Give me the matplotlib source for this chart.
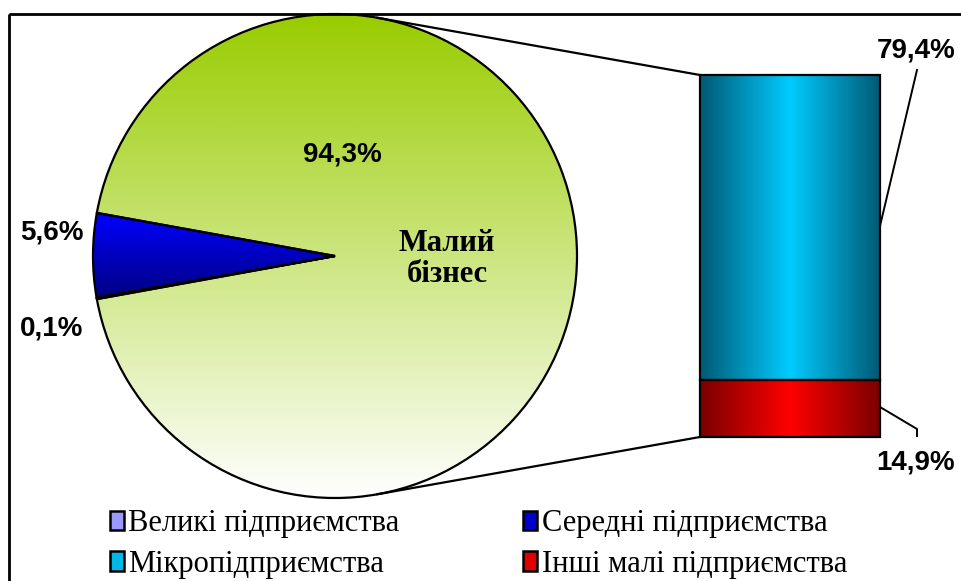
import numpy as np
import matplotlib
matplotlib.use("Agg")
import matplotlib.pyplot as plt
from matplotlib.patches import Patch, Rectangle
from matplotlib.colors import LinearSegmentedColormap

# ---------------- data ----------------
pie_labels = ["Малий бізнес", "Середні підприємства", "Великі підприємства"]
pie_values = [94.3, 5.6, 0.1]
pie_texts = ["94,3%", "5,6%", "0,1%"]

bar_labels = ["Інші малі підприємства", "Мікропідприємства"]
bar_values = [14.9, 79.4]
bar_texts = ["14,9%", "79,4%"]

legend_order = ["Великі підприємства", "Середні підприємства",
                "Мікропідприємства", "Інші малі підприємства"]

# ---------------- styles ----------------
W, H = 962, 581
SANS = "Liberation Sans"
SERIF = "Liberation Serif"

fig = plt.figure(figsize=(W / 100, H / 100), dpi=100)
fig.patch.set_facecolor("white")

def fig_box(x0, y0, w, h):
    """pixel box (top-left origin) -> figure fraction rect"""
    return [x0 / W, 1 - (y0 + h) / H, w / W, h / H]

# ---------------- pie ----------------
cx, cy, r = 335, 256, 242
ax_pie = fig.add_axes(fig_box(cx - r, cy - r, 2 * r, 2 * r))
green_span = pie_values[0] / sum(pie_values) * 360
wedges, _ = ax_pie.pie(pie_values, radius=1, startangle=-green_span / 2,
                       counterclock=True,
                       wedgeprops=dict(edgecolor="black", linewidth=1.6))
ax_pie.set_xlim(-1, 1)
ax_pie.set_ylim(-1, 1)
ax_pie.set_aspect("equal")
ax_pie.axis("off")

def vgrad(ax, patch, top, bottom, extent):
    cmap = LinearSegmentedColormap.from_list("g", [bottom, top])
    grad = np.linspace(0, 1, 256).reshape(-1, 1)
    im = ax.imshow(grad, cmap=cmap, origin="lower", extent=extent,
                   aspect="auto", zorder=patch.get_zorder() - 0.5,
                   interpolation="bicubic")
    im.set_clip_path(patch)
    patch.set_facecolor("none")

def hgrad(ax, patch, edge, center, extent):
    cmap = LinearSegmentedColormap.from_list("h", [edge, center, edge])
    grad = np.linspace(0, 1, 256).reshape(1, -1)
    im = ax.imshow(grad, cmap=cmap, origin="lower", extent=extent,
                   aspect="auto", zorder=patch.get_zorder() - 0.5,
                   interpolation="bicubic")
    im.set_clip_path(patch)
    patch.set_facecolor("none")

for w in wedges:
    w.set_zorder(3)
    w.set_clip_on(False)

vgrad(ax_pie, wedges[0], "#99CC00", "#FFFFFF", (-1, 1, -1, 1))
t1, t2 = np.deg2rad(wedges[1].theta1), np.deg2rad(wedges[1].theta2)
yb = (min(np.sin(t1), np.sin(t2)), max(np.sin(t1), np.sin(t2)))
vgrad(ax_pie, wedges[1], "#0000FF", "#000080", (-1, 0, yb[0], yb[1]))
wedges[2].set_facecolor("#9999FF")

# ---------------- bar ----------------
bx, by, bw, bh = 700, 75, 180, 362
ax_bar = fig.add_axes(fig_box(bx, by, bw, bh))
bottom = 0
bar_patches = []
for v in bar_values:
    p = ax_bar.bar([0], [v], bottom=bottom, width=1.0, edgecolor="black",
                   linewidth=1.6, zorder=3)[0]
    bar_patches.append((p, bottom, bottom + v))
    bottom += v
ax_bar.set_xlim(-0.5, 0.5)
ax_bar.set_ylim(0, sum(bar_values))
ax_bar.axis("off")
hgrad(ax_bar, bar_patches[0][0], "#7A0000", "#FF0000",
      (-0.5, 0.5, bar_patches[0][1], bar_patches[0][2]))
hgrad(ax_bar, bar_patches[1][0], "#005A75", "#00CCFF",
      (-0.5, 0.5, bar_patches[1][1], bar_patches[1][2]))
for p, _, _ in bar_patches:
    p.set_clip_on(False)

# ---------------- overlay (pixel coords) ----------------
bg = fig.add_axes([0, 0, 1, 1])
bg.set_xlim(0, W)
bg.set_ylim(H, 0)
bg.axis("off")
bg.patch.set_alpha(0)

# frame
bg.add_patch(Rectangle((9, 14), 980, 600, fill=False, edgecolor="black",
                       linewidth=2.0, clip_on=True))

# connector lines (tangents from bar corners to pie)
def tangent(px, py, sign):
    dx, dy = px - cx, py - cy
    d = np.hypot(dx, dy)
    base = np.arctan2(dy, dx)
    a = base + sign * np.arccos(r / d)
    return cx + r * np.cos(a), cy + r * np.sin(a)

for (px, py), s in [((bx, by), -1), ((bx, by + bh), 1)]:
    tx, ty = tangent(px, py, s)
    bg.plot([tx, px], [ty, py], color="black", lw=1.6)

# leader lines for bar labels
bg.plot([880, 917], [226, 70], color="black", lw=1.4)
bg.plot([880, 917, 917], [407, 429, 436], color="black", lw=1.4)

# labels
lab_kw = dict(fontfamily=SANS, fontweight="bold", fontsize=20,
              ha="center", va="center", color="black")
bg.text(342, 155, pie_texts[0], **lab_kw)
bg.text(52, 233, pie_texts[1], **lab_kw)
bg.text(52, 328, pie_texts[2], **lab_kw)
bg.text(916, 50, bar_texts[1], **lab_kw)
bg.text(916, 462, bar_texts[0], **lab_kw)
bg.text(447, 259, "Малий\nбізнес", fontfamily=SERIF, fontweight="bold",
        fontsize=22, ha="center", va="center", linespacing=1.1)

# legend
colors = {"Великі підприємства": "#9999FF",
          "Середні підприємства": "#0000CC",
          "Мікропідприємства": "#00B8E6",
          "Інші малі підприємства": "#E00000"}
order_cm = [legend_order[0], legend_order[2], legend_order[1], legend_order[3]]
handles = [Patch(facecolor=colors[n], edgecolor="black", linewidth=1.8,
                 label=n) for n in order_cm]
bg.legend(handles=handles, ncol=2, loc="upper left",
          bbox_to_anchor=(110, 509), bbox_transform=bg.transData,
          frameon=False, prop=dict(family=SERIF, size=22),
          handlelength=0.45, handleheight=0.6, handletextpad=0.15,
          columnspacing=4.05, labelspacing=0.38, borderpad=0,
          borderaxespad=0)

fig.savefig("out.png", dpi=100)
